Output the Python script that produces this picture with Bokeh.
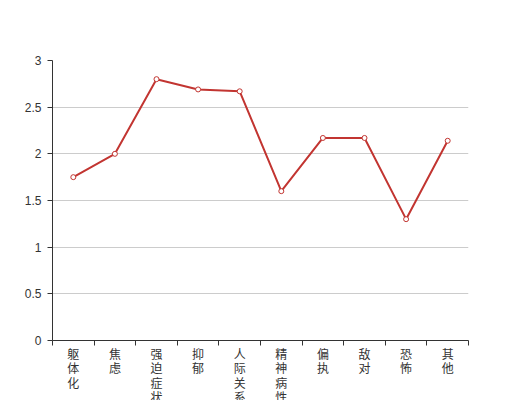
from bokeh.plotting import figure
from bokeh.models import FixedTicker, Range1d, ColumnDataSource
from bokeh.embed import file_html
from bokeh.resources import INLINE

categories = ["躯体化", "焦虑", "强迫症状", "抑郁", "人际关系敏感", "精神病性", "偏执", "敌对", "恐怖", "其他"]
values = [1.75, 2.0, 2.8, 2.69, 2.67, 1.6, 2.17, 2.17, 1.3, 2.14]
y_ticks = [0, 0.5, 1, 1.5, 2, 2.5, 3]
y_labels = ["0", "0.5", "1", "1.5", "2", "2.5", "3"]

n = len(categories)
xs = [i + 0.5 for i in range(n)]
src = ColumnDataSource(dict(x=xs, y=values))

p = figure(width=504, height=437, output_backend="svg", toolbar_location=None,
           x_range=Range1d(0, n), y_range=Range1d(0, 3),
           min_border_left=52, min_border_right=36, min_border_top=60)
p.outline_line_color = None
p.background_fill_color = "white"

# x axis: labels at centers, ticks at boundaries
p.xaxis.ticker = FixedTicker(ticks=xs, minor_ticks=list(range(n + 1)))
p.xaxis.major_label_overrides = {x: "\n".join(c) for x, c in zip(xs, categories)}
p.xaxis.major_tick_out = 0
p.xaxis.major_tick_in = 0
p.xaxis.minor_tick_out = 5
p.xaxis.minor_tick_in = 0
p.xaxis.minor_tick_line_color = "#333333"
p.xaxis.axis_line_color = "#333333"
p.xaxis.major_label_standoff = -1
p.xaxis.major_label_text_font = "Noto Sans CJK SC"
p.xaxis.major_label_text_font_size = "12px"
p.xaxis.major_label_text_color = "#333333"
p.xaxis.major_label_text_line_height = 0.86
p.xgrid.grid_line_color = None

# y axis
p.yaxis.ticker = FixedTicker(ticks=y_ticks, minor_ticks=[])
p.yaxis.major_label_overrides = {t: l for t, l in zip(y_ticks, y_labels)}
p.yaxis.major_tick_out = 5
p.yaxis.major_tick_in = 0
p.yaxis.major_tick_line_color = "#333333"
p.yaxis.axis_line_color = "#333333"
p.yaxis.major_label_standoff = 6
p.yaxis.major_label_text_font = "Liberation Sans"
p.yaxis.major_label_text_font_size = "12px"
p.yaxis.major_label_text_color = "#333333"
p.ygrid.grid_line_color = "#cccccc"
p.ygrid.ticker = FixedTicker(ticks=y_ticks[1:])

p.line("x", "y", source=src, line_color="#c23531", line_width=2)
p.scatter("x", "y", source=src, size=5, fill_color="white", line_color="#c23531", line_width=1)

open("out.html", "w").write(file_html(p, INLINE))
